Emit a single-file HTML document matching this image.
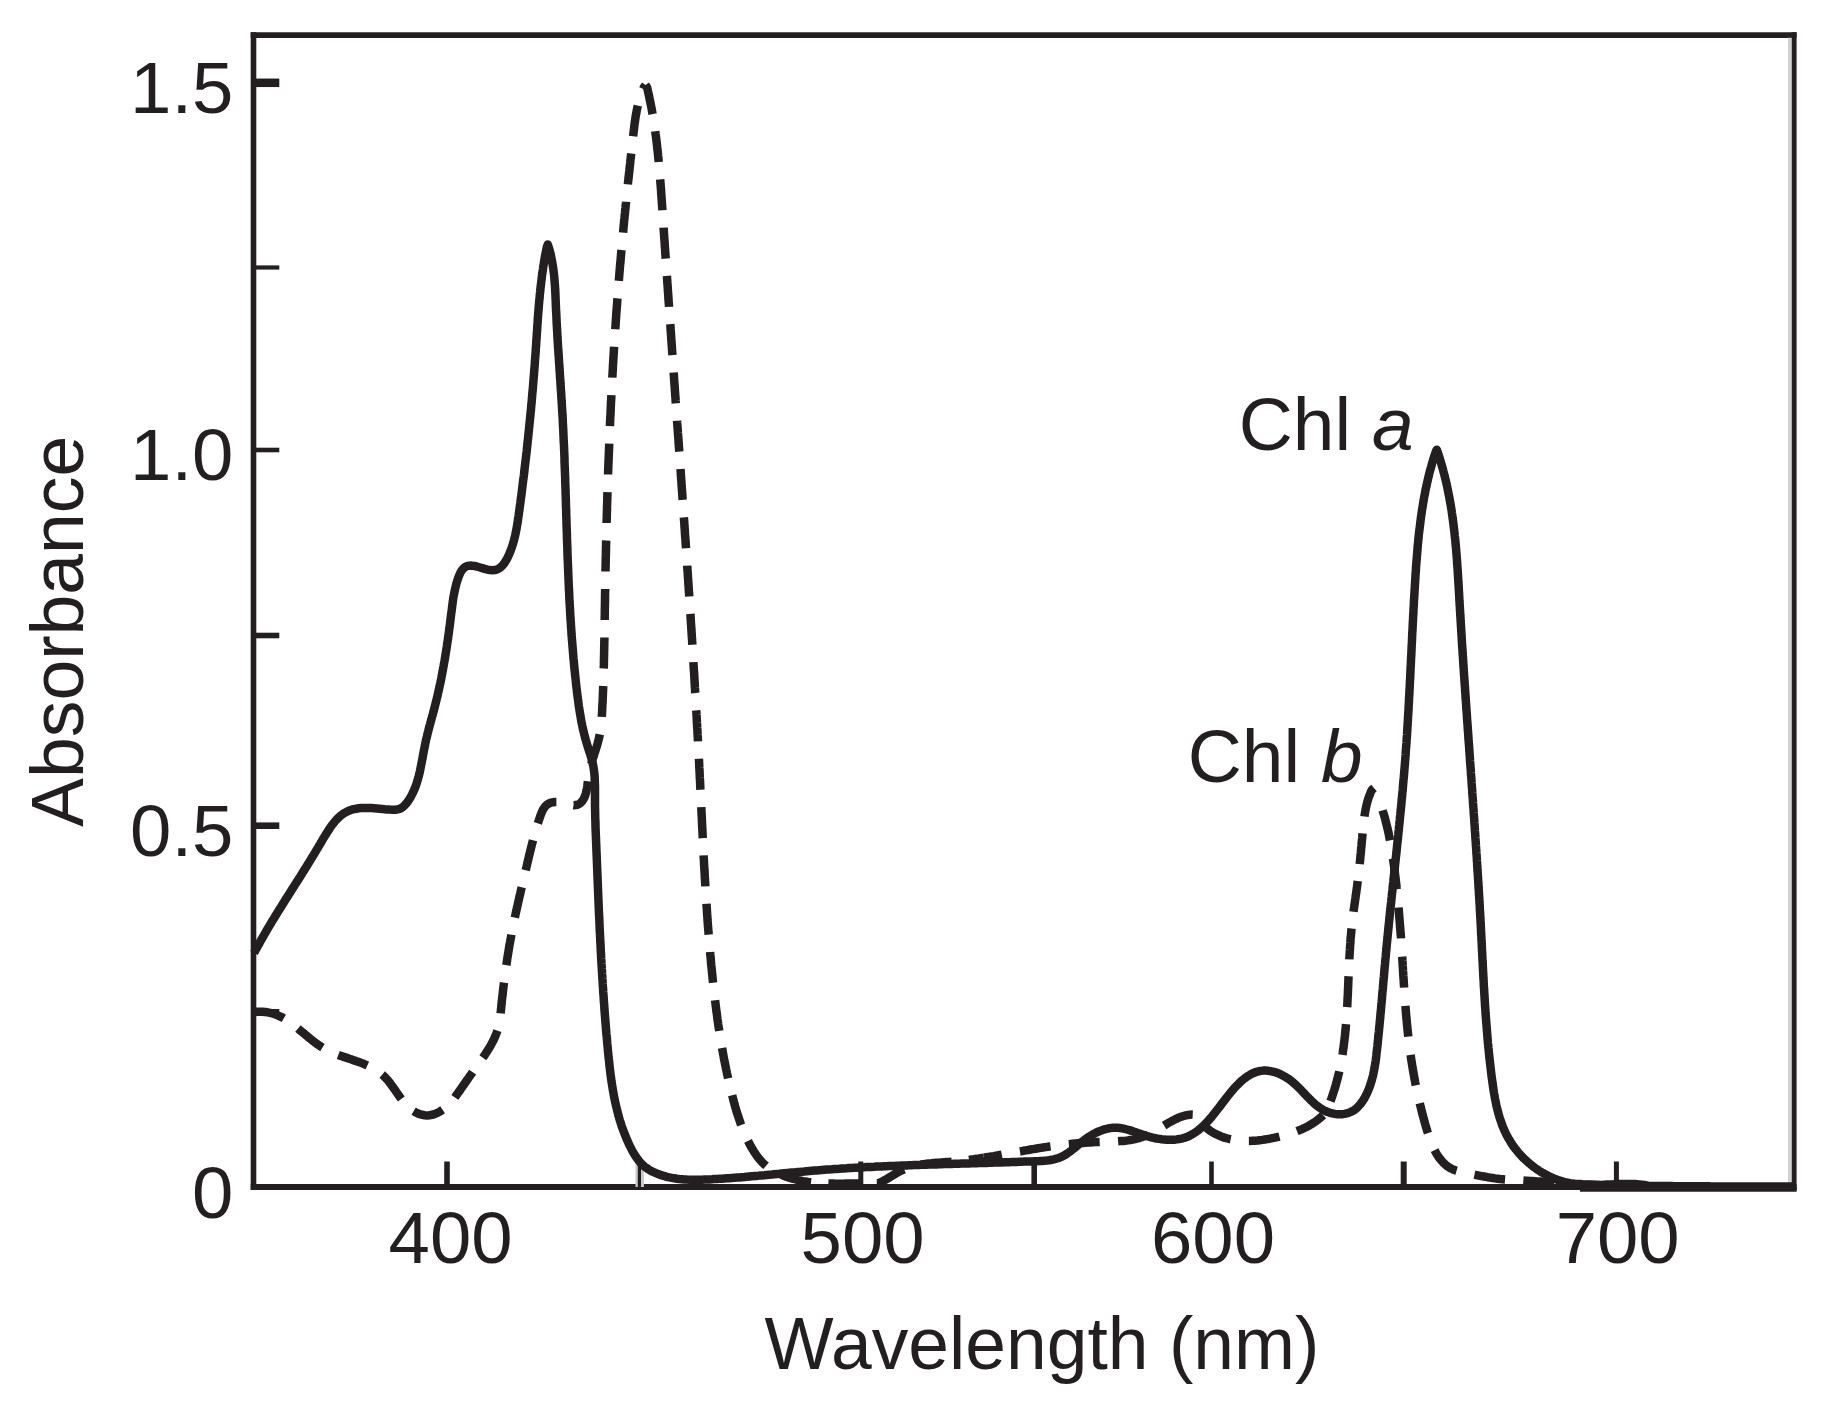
<!DOCTYPE html>
<html lang="en"><head><meta charset="utf-8"><title>Absorbance spectra of Chl a and Chl b</title>
<style>
html,body{margin:0;padding:0;background:#fff;}
body{width:1833px;height:1405px;overflow:hidden;font-family:"Liberation Sans",sans-serif;}
svg{display:block;}
text{font-family:"Liberation Sans",sans-serif;fill:#231f20;}
</style></head><body>
<svg width="1833" height="1405" viewBox="0 0 1833 1405">
<rect width="1833" height="1405" fill="#fff"/>
<g fill="none" stroke="#231f20" stroke-linecap="butt">
<path d="M253.5 32.3 V1189.9" stroke-width="5.6"/>
<path d="M250.7 35.1 H1796.6" stroke-width="5.6"/>
<path d="M1794 32.3 V1190.5" stroke-width="5.2"/>
<path d="M250.7 1186.9 H1796.6" stroke-width="6"/>
<path d="M1789.8 37.8 V1184" stroke-width="3.6" stroke="#d2d1d1"/>
<path d="M1580 1189.6 H1796.6" stroke-width="4.4"/>
<line x1="254" y1="82.8" x2="279.3" y2="82.8" stroke-width="8.5"/>
<line x1="254" y1="267.5" x2="279.3" y2="267.5" stroke-width="4.2"/>
<line x1="254" y1="450" x2="279.3" y2="450" stroke-width="4.6"/>
<line x1="254" y1="635.5" x2="279.3" y2="635.5" stroke-width="5.6"/>
<line x1="254" y1="825.7" x2="279.3" y2="825.7" stroke-width="6.6"/>
<line x1="254" y1="1012" x2="279.3" y2="1012" stroke-width="6"/>
<line x1="447" y1="1161.5" x2="447" y2="1187" stroke-width="5.6"/>
<line x1="639.7" y1="1163" x2="639.7" y2="1187" stroke-width="8.4" stroke="#c9c7c8"/>
<line x1="639.4" y1="1162.7" x2="639.4" y2="1187" stroke-width="3.2"/>
<line x1="860.8" y1="1161.5" x2="860.8" y2="1187" stroke-width="5"/>
<line x1="1034.2" y1="1164" x2="1034.2" y2="1187" stroke-width="5.6"/>
<line x1="1211.5" y1="1161.5" x2="1211.5" y2="1187" stroke-width="4.6"/>
<line x1="1403.7" y1="1161.5" x2="1403.7" y2="1187" stroke-width="6"/>
<line x1="1616.4" y1="1161.5" x2="1616.4" y2="1187" stroke-width="5"/>
</g>
<g fill="none" stroke="#231f20" stroke-linejoin="round">
<path d="M254.0 953.0 L255.2 950.8 L256.5 948.5 L257.7 946.2 L259.0 944.0 L260.2 941.7 L261.5 939.5 L262.7 937.3 L264.0 935.1 L265.3 932.9 L266.5 930.7 L267.8 928.6 L269.1 926.4 L270.4 924.3 L271.6 922.1 L272.9 920.0 L274.2 917.9 L275.5 915.8 L276.8 913.7 L278.1 911.6 L279.4 909.5 L280.7 907.4 L282.0 905.4 L283.3 903.3 L284.6 901.2 L285.9 899.1 L287.2 897.1 L288.5 895.0 L289.8 892.9 L291.1 890.9 L292.4 888.8 L293.8 886.7 L295.1 884.6 L296.4 882.6 L297.7 880.5 L299.0 878.4 L300.4 876.3 L301.7 874.2 L303.0 872.1 L304.4 869.9 L305.7 867.8 L307.0 865.7 L308.3 863.5 L309.7 861.4 L311.0 859.2 L312.3 857.0 L313.7 854.8 L315.0 852.6 L316.3 850.4 L317.7 848.1 L319.0 845.9 L320.4 843.6 L321.7 841.3 L323.0 839.0 L324.4 836.8 L325.8 834.5 L327.2 832.3 L328.6 830.1 L330.0 827.9 L331.5 825.8 L333.0 823.8 L334.6 821.8 L336.2 820.0 L337.9 818.2 L339.7 816.6 L341.5 815.1 L343.4 813.7 L345.3 812.5 L347.4 811.4 L349.5 810.5 L351.7 809.7 L354.0 809.1 L356.3 808.7 L358.8 808.3 L361.2 808.1 L363.8 808.0 L366.3 808.0 L368.9 808.0 L371.5 808.1 L374.2 808.3 L376.8 808.5 L379.5 808.7 L382.1 808.9 L384.7 809.2 L387.3 809.4 L389.9 809.6 L392.4 809.7 L394.9 809.7 L397.2 809.5 L399.5 808.9 L401.5 808.0 L403.3 806.6 L405.0 804.9 L406.6 803.1 L408.1 801.1 L409.4 799.1 L410.7 797.0 L411.8 794.9 L412.9 792.7 L413.9 790.5 L414.9 788.2 L415.8 785.9 L416.6 783.6 L417.3 781.2 L418.0 778.8 L418.7 776.3 L419.3 773.9 L419.9 771.4 L420.4 768.9 L420.9 766.3 L421.4 763.8 L421.9 761.3 L422.4 758.7 L422.9 756.2 L423.3 753.7 L423.8 751.1 L424.3 748.6 L424.8 746.1 L425.3 743.6 L425.8 741.1 L426.4 738.6 L427.0 736.2 L427.5 733.8 L428.2 731.3 L428.8 728.9 L429.4 726.5 L430.1 724.1 L430.7 721.7 L431.4 719.3 L432.0 717.0 L432.7 714.6 L433.3 712.2 L434.0 709.8 L434.6 707.4 L435.2 705.0 L435.8 702.6 L436.4 700.2 L437.0 697.8 L437.6 695.4 L438.1 693.0 L438.7 690.5 L439.2 688.1 L439.7 685.7 L440.3 683.2 L440.8 680.8 L441.3 678.3 L441.7 675.9 L442.2 673.4 L442.7 670.9 L443.1 668.5 L443.6 666.0 L444.0 663.5 L444.5 661.0 L444.9 658.6 L445.3 656.1 L445.7 653.6 L446.1 651.1 L446.5 648.6 L446.9 646.1 L447.2 643.6 L447.6 641.1 L448.0 638.7 L448.3 636.2 L448.7 633.7 L449.0 631.2 L449.3 628.7 L449.7 626.2 L450.0 623.7 L450.3 621.2 L450.6 618.7 L450.9 616.2 L451.2 613.7 L451.6 611.2 L451.9 608.7 L452.2 606.2 L452.5 603.7 L452.9 601.2 L453.2 598.7 L453.6 596.2 L454.1 593.8 L454.6 591.3 L455.1 588.9 L455.7 586.4 L456.3 584.0 L457.0 581.6 L457.8 579.2 L458.6 576.8 L459.6 574.4 L460.6 572.2 L461.9 570.2 L463.3 568.5 L465.0 567.1 L466.9 566.2 L469.2 565.7 L471.5 565.6 L474.1 565.9 L476.7 566.5 L479.4 567.3 L482.1 568.1 L484.8 568.9 L487.5 569.6 L490.1 570.1 L492.5 570.3 L494.8 570.1 L496.9 569.5 L498.9 568.5 L500.7 567.2 L502.4 565.6 L503.9 563.8 L505.3 561.7 L506.6 559.5 L507.8 557.2 L508.9 554.8 L509.9 552.4 L510.9 549.9 L511.8 547.5 L512.6 545.0 L513.3 542.6 L514.0 540.1 L514.6 537.7 L515.2 535.2 L515.7 532.8 L516.2 530.3 L516.7 527.9 L517.1 525.4 L517.5 523.0 L517.9 520.5 L518.2 518.1 L518.6 515.6 L518.9 513.2 L519.3 510.7 L519.6 508.2 L519.9 505.8 L520.3 503.3 L520.6 500.8 L520.9 498.4 L521.3 495.9 L521.6 493.4 L521.9 490.9 L522.2 488.5 L522.5 486.0 L522.8 483.5 L523.1 481.0 L523.4 478.6 L523.8 476.1 L524.1 473.6 L524.4 471.1 L524.6 468.6 L524.9 466.2 L525.2 463.7 L525.5 461.2 L525.8 458.7 L526.1 456.2 L526.4 453.7 L526.7 451.2 L526.9 448.7 L527.2 446.3 L527.5 443.8 L527.7 441.3 L528.0 438.8 L528.3 436.3 L528.5 433.8 L528.8 431.3 L529.0 428.8 L529.3 426.3 L529.5 423.8 L529.8 421.3 L530.0 418.8 L530.3 416.3 L530.5 413.8 L530.8 411.3 L531.0 408.8 L531.2 406.3 L531.5 403.8 L531.7 401.3 L531.9 398.8 L532.1 396.3 L532.3 393.8 L532.6 391.3 L532.8 388.8 L533.0 386.3 L533.2 383.8 L533.4 381.3 L533.6 378.8 L533.8 376.3 L534.0 373.8 L534.2 371.3 L534.4 368.8 L534.6 366.3 L534.8 363.8 L534.9 361.3 L535.1 358.8 L535.3 356.3 L535.5 353.8 L535.7 351.3 L535.8 348.8 L536.0 346.3 L536.2 343.8 L536.3 341.3 L536.5 338.8 L536.7 336.3 L536.8 333.8 L537.0 331.3 L537.2 328.8 L537.3 326.3 L537.5 323.8 L537.7 321.3 L537.8 318.8 L538.0 316.3 L538.2 313.8 L538.4 311.3 L538.6 308.8 L538.8 306.3 L539.0 303.8 L539.2 301.3 L539.5 298.9 L539.7 296.4 L539.9 293.9 L540.2 291.4 L540.4 288.9 L540.7 286.4 L541.0 283.9 L541.3 281.5 L541.6 279.0 L541.9 276.5 L542.2 274.0 L542.6 271.5 L543.0 269.1 L543.3 266.6 L543.7 264.1 L544.1 261.6 L544.5 259.2 L545.0 256.7 L545.4 254.2 L545.9 251.8 L546.4 249.3 L546.9 246.8 L547.8 244.5 L548.6 246.9 L549.3 249.3 L550.0 251.7 L550.6 254.1 L551.1 256.6 L551.6 259.0 L552.1 261.5 L552.5 263.9 L552.9 266.4 L553.3 268.9 L553.6 271.3 L553.9 273.8 L554.2 276.3 L554.4 278.8 L554.6 281.3 L554.8 283.8 L555.0 286.3 L555.1 288.8 L555.3 291.3 L555.4 293.8 L555.5 296.3 L555.6 298.8 L555.7 301.3 L555.8 303.8 L555.9 306.3 L556.0 308.8 L556.1 311.3 L556.3 313.8 L556.4 316.3 L556.5 318.8 L556.6 321.3 L556.7 323.8 L556.9 326.3 L557.0 328.8 L557.2 331.3 L557.3 333.8 L557.4 336.3 L557.6 338.8 L557.7 341.3 L557.9 343.8 L558.0 346.3 L558.2 348.8 L558.4 351.3 L558.5 353.8 L558.7 356.3 L558.9 358.8 L559.0 361.3 L559.2 363.8 L559.4 366.3 L559.5 368.8 L559.7 371.3 L559.9 373.8 L560.0 376.3 L560.2 378.8 L560.4 381.3 L560.5 383.8 L560.7 386.3 L560.8 388.7 L561.0 391.2 L561.2 393.7 L561.3 396.2 L561.5 398.7 L561.6 401.2 L561.8 403.7 L561.9 406.2 L562.1 408.7 L562.2 411.2 L562.4 413.7 L562.5 416.2 L562.7 418.7 L562.8 421.2 L562.9 423.7 L563.0 426.2 L563.2 428.7 L563.3 431.2 L563.4 433.7 L563.5 436.2 L563.6 438.7 L563.7 441.2 L563.9 443.7 L564.0 446.2 L564.1 448.7 L564.2 451.2 L564.3 453.7 L564.4 456.2 L564.5 458.7 L564.5 461.2 L564.6 463.7 L564.7 466.2 L564.8 468.7 L564.9 471.2 L565.0 473.7 L565.1 476.2 L565.2 478.7 L565.2 481.2 L565.3 483.7 L565.4 486.2 L565.5 488.7 L565.6 491.2 L565.6 493.7 L565.7 496.2 L565.8 498.7 L565.9 501.2 L565.9 503.7 L566.0 506.2 L566.1 508.7 L566.2 511.2 L566.2 513.7 L566.3 516.3 L566.4 518.8 L566.5 521.3 L566.5 523.8 L566.6 526.3 L566.7 528.8 L566.8 531.3 L566.9 533.8 L566.9 536.3 L567.0 538.8 L567.1 541.3 L567.2 543.8 L567.3 546.3 L567.4 548.8 L567.4 551.3 L567.5 553.8 L567.6 556.3 L567.7 558.8 L567.8 561.3 L567.9 563.8 L568.0 566.3 L568.1 568.8 L568.2 571.3 L568.3 573.8 L568.4 576.3 L568.5 578.8 L568.6 581.3 L568.7 583.8 L568.8 586.3 L568.9 588.8 L569.1 591.3 L569.2 593.8 L569.3 596.3 L569.4 598.8 L569.5 601.3 L569.7 603.8 L569.8 606.3 L570.0 608.8 L570.1 611.3 L570.2 613.8 L570.4 616.3 L570.5 618.8 L570.7 621.3 L570.9 623.8 L571.0 626.3 L571.2 628.8 L571.4 631.3 L571.5 633.8 L571.7 636.3 L571.9 638.8 L572.1 641.2 L572.3 643.7 L572.5 646.2 L572.7 648.7 L572.9 651.2 L573.1 653.7 L573.3 656.2 L573.5 658.7 L573.8 661.2 L574.0 663.7 L574.2 666.1 L574.5 668.6 L574.7 671.1 L575.0 673.6 L575.2 676.1 L575.5 678.6 L575.8 681.1 L576.0 683.5 L576.3 686.0 L576.6 688.5 L576.9 691.0 L577.2 693.5 L577.5 695.9 L577.8 698.4 L578.2 700.9 L578.5 703.4 L578.8 705.8 L579.2 708.3 L579.6 710.8 L580.0 713.2 L580.4 715.7 L580.8 718.2 L581.2 720.6 L581.7 723.1 L582.2 725.5 L582.7 728.0 L583.3 730.4 L583.9 732.8 L584.5 735.3 L585.1 737.7 L585.8 740.1 L586.5 742.5 L587.2 744.9 L588.0 747.3 L588.7 749.7 L589.5 752.1 L590.3 754.5 L591.0 756.9 L591.7 759.3 L592.3 761.7 L592.9 764.1 L593.4 766.6 L593.8 769.0 L594.1 771.5 L594.4 773.9 L594.6 776.4 L594.7 778.9 L594.8 781.4 L594.9 783.9 L595.0 786.4 L595.0 788.9 L595.0 791.4 L595.0 794.0 L595.0 796.5 L595.0 799.0 L595.0 801.5 L595.0 804.0 L595.0 806.6 L595.1 809.1 L595.1 811.6 L595.2 814.1 L595.2 816.6 L595.3 819.1 L595.4 821.6 L595.5 824.2 L595.5 826.7 L595.6 829.2 L595.7 831.7 L595.8 834.2 L595.9 836.7 L596.0 839.2 L596.1 841.7 L596.2 844.2 L596.3 846.7 L596.4 849.2 L596.5 851.7 L596.6 854.2 L596.7 856.7 L596.8 859.2 L596.9 861.7 L597.0 864.2 L597.1 866.7 L597.2 869.2 L597.3 871.7 L597.4 874.2 L597.5 876.7 L597.6 879.2 L597.7 881.7 L597.8 884.2 L597.9 886.7 L598.0 889.2 L598.1 891.7 L598.2 894.2 L598.3 896.7 L598.4 899.2 L598.5 901.7 L598.6 904.2 L598.7 906.7 L598.8 909.2 L598.9 911.7 L599.0 914.2 L599.2 916.7 L599.3 919.2 L599.4 921.7 L599.5 924.1 L599.6 926.6 L599.7 929.1 L599.8 931.6 L600.0 934.1 L600.1 936.6 L600.2 939.1 L600.3 941.6 L600.5 944.1 L600.6 946.6 L600.7 949.1 L600.8 951.6 L601.0 954.1 L601.1 956.6 L601.2 959.0 L601.4 961.5 L601.5 964.0 L601.7 966.5 L601.8 969.0 L602.0 971.5 L602.1 974.0 L602.3 976.5 L602.4 979.0 L602.6 981.5 L602.7 984.0 L602.9 986.5 L603.1 989.0 L603.2 991.5 L603.4 994.0 L603.6 996.5 L603.7 998.9 L603.9 1001.4 L604.1 1003.9 L604.3 1006.4 L604.4 1008.9 L604.6 1011.4 L604.8 1013.9 L605.0 1016.4 L605.2 1018.9 L605.4 1021.4 L605.6 1023.9 L605.8 1026.4 L606.0 1028.9 L606.2 1031.4 L606.4 1033.9 L606.7 1036.4 L606.9 1038.9 L607.1 1041.4 L607.3 1043.9 L607.6 1046.4 L607.8 1049.0 L608.0 1051.5 L608.3 1054.0 L608.5 1056.5 L608.8 1059.0 L609.1 1061.5 L609.3 1064.0 L609.6 1066.5 L609.9 1069.0 L610.2 1071.5 L610.5 1074.0 L610.8 1076.5 L611.2 1079.0 L611.5 1081.5 L611.9 1083.9 L612.3 1086.4 L612.7 1088.9 L613.1 1091.4 L613.6 1093.8 L614.0 1096.3 L614.5 1098.7 L615.0 1101.2 L615.5 1103.6 L616.1 1106.1 L616.7 1108.5 L617.3 1110.9 L617.9 1113.3 L618.5 1115.7 L619.2 1118.1 L619.9 1120.5 L620.7 1122.9 L621.4 1125.3 L622.2 1127.6 L623.1 1130.0 L624.0 1132.3 L624.9 1134.6 L625.8 1136.9 L626.8 1139.3 L627.8 1141.5 L628.8 1143.8 L629.9 1146.1 L631.1 1148.4 L632.2 1150.6 L633.5 1152.8 L634.8 1154.9 L636.1 1157.0 L637.6 1159.1 L639.1 1161.0 L640.7 1162.9 L642.4 1164.6 L644.2 1166.3 L646.2 1167.8 L648.2 1169.2 L650.3 1170.5 L652.5 1171.7 L654.8 1172.7 L657.2 1173.7 L659.6 1174.6 L662.0 1175.4 L664.5 1176.1 L666.9 1176.8 L669.4 1177.4 L671.9 1177.9 L674.4 1178.3 L676.9 1178.7 L679.4 1179.0 L681.9 1179.2 L684.4 1179.4 L686.9 1179.6 L689.4 1179.7 L691.9 1179.8 L694.4 1179.8 L696.9 1179.8 L699.4 1179.8 L701.9 1179.7 L704.4 1179.6 L707.0 1179.5 L709.5 1179.4 L712.0 1179.3 L714.5 1179.1 L717.0 1179.0 L719.5 1178.8 L722.0 1178.7 L724.5 1178.5 L727.0 1178.3 L729.5 1178.2 L732.0 1178.0 L734.5 1177.8 L737.0 1177.6 L739.5 1177.4 L742.0 1177.2 L744.5 1177.0 L747.0 1176.7 L749.5 1176.5 L752.0 1176.3 L754.5 1176.1 L756.9 1175.9 L759.4 1175.6 L761.9 1175.4 L764.4 1175.2 L766.9 1174.9 L769.4 1174.7 L771.9 1174.5 L774.4 1174.2 L776.9 1174.0 L779.4 1173.8 L781.9 1173.5 L784.3 1173.3 L786.8 1173.1 L789.3 1172.8 L791.8 1172.6 L794.3 1172.4 L796.8 1172.1 L799.3 1171.9 L801.8 1171.7 L804.3 1171.5 L806.8 1171.2 L809.2 1171.0 L811.7 1170.8 L814.2 1170.6 L816.7 1170.4 L819.2 1170.2 L821.7 1170.0 L824.2 1169.8 L826.7 1169.6 L829.2 1169.4 L831.7 1169.3 L834.2 1169.1 L836.7 1168.9 L839.2 1168.8 L841.6 1168.6 L844.1 1168.4 L846.6 1168.3 L849.1 1168.1 L851.6 1168.0 L854.1 1167.8 L856.6 1167.7 L859.1 1167.5 L861.6 1167.4 L864.1 1167.3 L866.6 1167.1 L869.1 1167.0 L871.6 1166.9 L874.1 1166.8 L876.6 1166.6 L879.1 1166.5 L881.6 1166.4 L884.1 1166.3 L886.6 1166.2 L889.1 1166.1 L891.6 1166.0 L894.1 1165.9 L896.6 1165.8 L899.1 1165.7 L901.6 1165.6 L904.1 1165.5 L906.6 1165.4 L909.1 1165.3 L911.6 1165.2 L914.1 1165.1 L916.6 1165.0 L919.1 1164.9 L921.6 1164.8 L924.1 1164.8 L926.6 1164.7 L929.1 1164.6 L931.6 1164.5 L934.1 1164.4 L936.6 1164.4 L939.1 1164.3 L941.6 1164.2 L944.1 1164.1 L946.6 1164.0 L949.1 1164.0 L951.6 1163.9 L954.1 1163.8 L956.6 1163.7 L959.1 1163.7 L961.6 1163.6 L964.1 1163.5 L966.6 1163.5 L969.1 1163.4 L971.6 1163.3 L974.1 1163.2 L976.7 1163.2 L979.2 1163.1 L981.7 1163.0 L984.2 1162.9 L986.7 1162.9 L989.2 1162.8 L991.7 1162.7 L994.2 1162.6 L996.7 1162.6 L999.2 1162.5 L1001.7 1162.4 L1004.2 1162.3 L1006.7 1162.2 L1009.2 1162.2 L1011.7 1162.1 L1014.2 1162.0 L1016.7 1161.9 L1019.2 1161.8 L1021.7 1161.7 L1024.3 1161.6 L1026.8 1161.6 L1029.3 1161.5 L1031.8 1161.4 L1034.3 1161.3 L1036.8 1161.2 L1039.3 1161.1 L1041.8 1160.9 L1044.3 1160.7 L1046.7 1160.5 L1049.2 1160.2 L1051.6 1159.8 L1053.9 1159.3 L1056.3 1158.7 L1058.5 1158.0 L1060.8 1157.1 L1062.9 1156.1 L1065.1 1154.9 L1067.1 1153.6 L1069.2 1152.1 L1071.2 1150.6 L1073.2 1149.0 L1075.2 1147.4 L1077.2 1145.7 L1079.2 1144.0 L1081.2 1142.4 L1083.3 1140.8 L1085.4 1139.2 L1087.5 1137.7 L1089.7 1136.3 L1091.9 1135.0 L1094.1 1133.7 L1096.4 1132.5 L1098.7 1131.5 L1101.0 1130.6 L1103.3 1129.7 L1105.6 1129.1 L1108.0 1128.5 L1110.3 1128.1 L1112.7 1127.8 L1115.0 1127.7 L1117.4 1127.8 L1119.8 1128.0 L1122.2 1128.4 L1124.5 1128.9 L1126.9 1129.5 L1129.3 1130.1 L1131.7 1130.9 L1134.1 1131.7 L1136.5 1132.5 L1139.0 1133.4 L1141.4 1134.2 L1143.9 1135.1 L1146.4 1135.9 L1148.9 1136.6 L1151.4 1137.3 L1154.0 1138.0 L1156.6 1138.5 L1159.1 1138.9 L1161.7 1139.3 L1164.2 1139.6 L1166.8 1139.8 L1169.3 1139.8 L1171.8 1139.8 L1174.3 1139.7 L1176.7 1139.4 L1179.1 1139.0 L1181.5 1138.6 L1183.8 1138.0 L1186.0 1137.2 L1188.2 1136.4 L1190.3 1135.4 L1192.3 1134.3 L1194.3 1133.0 L1196.3 1131.7 L1198.2 1130.3 L1200.0 1128.8 L1201.9 1127.2 L1203.7 1125.5 L1205.4 1123.8 L1207.1 1122.0 L1208.8 1120.1 L1210.5 1118.2 L1212.2 1116.2 L1213.8 1114.2 L1215.4 1112.1 L1217.0 1110.0 L1218.7 1107.9 L1220.3 1105.8 L1221.9 1103.7 L1223.5 1101.6 L1225.2 1099.4 L1226.8 1097.3 L1228.5 1095.2 L1230.2 1093.1 L1231.9 1091.1 L1233.6 1089.1 L1235.3 1087.1 L1237.1 1085.2 L1238.9 1083.4 L1240.7 1081.7 L1242.6 1080.0 L1244.5 1078.5 L1246.4 1077.1 L1248.3 1075.8 L1250.3 1074.6 L1252.4 1073.5 L1254.4 1072.6 L1256.5 1071.9 L1258.7 1071.3 L1260.9 1070.9 L1263.2 1070.6 L1265.5 1070.6 L1267.8 1070.7 L1270.2 1071.1 L1272.6 1071.6 L1275.1 1072.2 L1277.5 1073.1 L1279.9 1074.0 L1282.2 1075.2 L1284.5 1076.4 L1286.8 1077.8 L1289.0 1079.2 L1291.1 1080.8 L1293.1 1082.5 L1295.1 1084.2 L1297.0 1086.0 L1298.9 1087.8 L1300.7 1089.7 L1302.5 1091.6 L1304.3 1093.5 L1306.1 1095.4 L1307.9 1097.2 L1309.7 1099.1 L1311.5 1100.9 L1313.4 1102.6 L1315.2 1104.3 L1317.2 1105.8 L1319.1 1107.3 L1321.2 1108.7 L1323.3 1109.9 L1325.4 1111.0 L1327.7 1112.0 L1330.0 1112.8 L1332.4 1113.4 L1334.8 1113.9 L1337.2 1114.2 L1339.6 1114.3 L1342.0 1114.2 L1344.4 1113.9 L1346.7 1113.4 L1348.9 1112.7 L1351.0 1111.8 L1353.1 1110.7 L1355.0 1109.4 L1356.8 1107.9 L1358.5 1106.2 L1360.2 1104.4 L1361.7 1102.4 L1363.1 1100.3 L1364.5 1098.1 L1365.7 1095.8 L1366.9 1093.4 L1368.0 1091.0 L1369.0 1088.5 L1370.0 1085.9 L1370.8 1083.4 L1371.6 1080.8 L1372.3 1078.2 L1373.0 1075.7 L1373.5 1073.2 L1374.0 1070.7 L1374.5 1068.2 L1374.9 1065.7 L1375.3 1063.3 L1375.7 1060.8 L1376.0 1058.4 L1376.3 1055.9 L1376.5 1053.5 L1376.8 1051.1 L1377.1 1048.6 L1377.4 1046.2 L1377.6 1043.7 L1377.9 1041.3 L1378.1 1038.8 L1378.4 1036.4 L1378.6 1033.9 L1378.9 1031.4 L1379.1 1029.0 L1379.4 1026.5 L1379.6 1024.0 L1379.8 1021.6 L1380.1 1019.1 L1380.3 1016.6 L1380.5 1014.1 L1380.8 1011.6 L1381.0 1009.2 L1381.2 1006.7 L1381.4 1004.2 L1381.7 1001.7 L1381.9 999.2 L1382.1 996.7 L1382.3 994.2 L1382.5 991.7 L1382.8 989.2 L1383.0 986.7 L1383.2 984.2 L1383.4 981.7 L1383.6 979.2 L1383.9 976.7 L1384.1 974.2 L1384.3 971.7 L1384.5 969.2 L1384.7 966.7 L1385.0 964.2 L1385.2 961.7 L1385.4 959.2 L1385.7 956.7 L1385.9 954.2 L1386.1 951.8 L1386.4 949.3 L1386.6 946.8 L1386.8 944.3 L1387.1 941.8 L1387.3 939.3 L1387.6 936.8 L1387.8 934.3 L1388.1 931.8 L1388.3 929.3 L1388.6 926.8 L1388.8 924.3 L1389.1 921.8 L1389.3 919.3 L1389.6 916.8 L1389.8 914.3 L1390.1 911.8 L1390.4 909.3 L1390.6 906.8 L1390.9 904.4 L1391.2 901.9 L1391.4 899.4 L1391.7 896.9 L1391.9 894.4 L1392.2 891.9 L1392.5 889.4 L1392.7 886.9 L1393.0 884.4 L1393.3 881.9 L1393.5 879.4 L1393.8 877.0 L1394.1 874.5 L1394.3 872.0 L1394.6 869.5 L1394.9 867.0 L1395.1 864.5 L1395.4 862.0 L1395.7 859.5 L1395.9 857.0 L1396.2 854.6 L1396.5 852.1 L1396.7 849.6 L1397.0 847.1 L1397.2 844.6 L1397.5 842.1 L1397.8 839.6 L1398.0 837.1 L1398.3 834.7 L1398.5 832.2 L1398.8 829.7 L1399.0 827.2 L1399.3 824.7 L1399.5 822.2 L1399.8 819.7 L1400.0 817.2 L1400.3 814.7 L1400.5 812.3 L1400.8 809.8 L1401.0 807.3 L1401.3 804.8 L1401.5 802.3 L1401.7 799.8 L1402.0 797.3 L1402.2 794.8 L1402.4 792.4 L1402.7 789.9 L1402.9 787.4 L1403.1 784.9 L1403.3 782.4 L1403.5 779.9 L1403.8 777.4 L1404.0 774.9 L1404.2 772.4 L1404.4 769.9 L1404.6 767.5 L1404.8 765.0 L1405.0 762.5 L1405.2 760.0 L1405.4 757.5 L1405.6 755.0 L1405.7 752.5 L1405.9 750.0 L1406.1 747.5 L1406.3 745.0 L1406.5 742.5 L1406.6 740.0 L1406.8 737.5 L1407.0 735.0 L1407.1 732.6 L1407.3 730.1 L1407.4 727.6 L1407.6 725.1 L1407.7 722.6 L1407.9 720.1 L1408.0 717.6 L1408.2 715.1 L1408.3 712.6 L1408.5 710.1 L1408.6 707.6 L1408.7 705.1 L1408.9 702.6 L1409.0 700.1 L1409.1 697.6 L1409.3 695.1 L1409.4 692.6 L1409.5 690.1 L1409.7 687.6 L1409.8 685.1 L1409.9 682.6 L1410.0 680.1 L1410.2 677.6 L1410.3 675.1 L1410.4 672.6 L1410.5 670.1 L1410.6 667.6 L1410.8 665.1 L1410.9 662.6 L1411.0 660.1 L1411.1 657.6 L1411.3 655.1 L1411.4 652.6 L1411.5 650.1 L1411.6 647.6 L1411.7 645.1 L1411.9 642.6 L1412.0 640.1 L1412.1 637.6 L1412.2 635.1 L1412.3 632.6 L1412.5 630.1 L1412.6 627.6 L1412.7 625.1 L1412.8 622.6 L1413.0 620.1 L1413.1 617.6 L1413.2 615.1 L1413.4 612.6 L1413.5 610.1 L1413.6 607.6 L1413.8 605.1 L1413.9 602.6 L1414.0 600.1 L1414.2 597.6 L1414.3 595.1 L1414.5 592.6 L1414.6 590.1 L1414.8 587.6 L1414.9 585.1 L1415.1 582.6 L1415.2 580.1 L1415.4 577.6 L1415.5 575.1 L1415.7 572.6 L1415.9 570.1 L1416.0 567.6 L1416.2 565.1 L1416.4 562.6 L1416.6 560.1 L1416.8 557.6 L1417.0 555.1 L1417.2 552.6 L1417.4 550.1 L1417.6 547.6 L1417.8 545.1 L1418.1 542.6 L1418.3 540.1 L1418.6 537.6 L1418.8 535.1 L1419.1 532.6 L1419.4 530.1 L1419.7 527.7 L1420.0 525.2 L1420.3 522.7 L1420.6 520.2 L1420.9 517.7 L1421.3 515.3 L1421.6 512.8 L1422.0 510.3 L1422.4 507.9 L1422.8 505.4 L1423.2 502.9 L1423.6 500.5 L1424.0 498.0 L1424.5 495.6 L1425.0 493.1 L1425.4 490.7 L1425.9 488.2 L1426.5 485.8 L1427.0 483.3 L1427.6 480.9 L1428.1 478.5 L1428.7 476.1 L1429.3 473.6 L1429.9 471.2 L1430.6 468.8 L1431.3 466.4 L1431.9 464.0 L1432.6 461.6 L1433.4 459.2 L1434.1 456.8 L1434.9 454.4 L1435.7 452.0 L1436.7 449.7 L1437.6 451.9 L1438.4 454.4 L1439.2 456.8 L1439.9 459.2 L1440.7 461.6 L1441.4 464.1 L1442.1 466.5 L1442.8 468.9 L1443.4 471.3 L1444.1 473.8 L1444.7 476.2 L1445.3 478.7 L1445.9 481.1 L1446.5 483.6 L1447.0 486.0 L1447.5 488.4 L1448.0 490.9 L1448.5 493.4 L1449.0 495.8 L1449.5 498.3 L1449.9 500.7 L1450.3 503.2 L1450.8 505.7 L1451.2 508.1 L1451.6 510.6 L1451.9 513.1 L1452.3 515.5 L1452.6 518.0 L1453.0 520.5 L1453.3 523.0 L1453.6 525.4 L1453.9 527.9 L1454.2 530.4 L1454.5 532.9 L1454.7 535.4 L1455.0 537.9 L1455.3 540.3 L1455.5 542.8 L1455.7 545.3 L1456.0 547.8 L1456.2 550.3 L1456.4 552.8 L1456.6 555.3 L1456.8 557.8 L1457.0 560.3 L1457.1 562.8 L1457.3 565.3 L1457.5 567.8 L1457.7 570.3 L1457.8 572.8 L1458.0 575.3 L1458.1 577.8 L1458.3 580.3 L1458.4 582.8 L1458.6 585.3 L1458.7 587.8 L1458.9 590.3 L1459.0 592.8 L1459.2 595.3 L1459.3 597.8 L1459.4 600.3 L1459.6 602.8 L1459.7 605.3 L1459.9 607.8 L1460.0 610.3 L1460.2 612.8 L1460.3 615.3 L1460.5 617.8 L1460.6 620.3 L1460.8 622.8 L1460.9 625.3 L1461.1 627.8 L1461.2 630.3 L1461.4 632.8 L1461.5 635.3 L1461.7 637.8 L1461.8 640.3 L1462.0 642.8 L1462.1 645.3 L1462.3 647.8 L1462.5 650.3 L1462.6 652.8 L1462.8 655.3 L1463.0 657.8 L1463.1 660.4 L1463.3 662.9 L1463.4 665.4 L1463.6 667.9 L1463.8 670.4 L1463.9 672.9 L1464.1 675.4 L1464.3 677.9 L1464.4 680.4 L1464.6 682.9 L1464.8 685.4 L1465.0 687.9 L1465.1 690.4 L1465.3 692.9 L1465.5 695.4 L1465.6 697.9 L1465.8 700.4 L1466.0 702.9 L1466.2 705.4 L1466.3 707.9 L1466.5 710.4 L1466.7 712.9 L1466.9 715.4 L1467.0 717.9 L1467.2 720.4 L1467.4 722.9 L1467.6 725.4 L1467.7 727.9 L1467.9 730.4 L1468.1 732.9 L1468.3 735.4 L1468.4 737.9 L1468.6 740.4 L1468.8 742.9 L1469.0 745.4 L1469.2 747.9 L1469.3 750.4 L1469.5 752.9 L1469.7 755.5 L1469.9 758.0 L1470.0 760.5 L1470.2 763.0 L1470.4 765.5 L1470.6 768.0 L1470.8 770.5 L1470.9 773.0 L1471.1 775.5 L1471.3 778.0 L1471.5 780.5 L1471.6 783.0 L1471.8 785.5 L1472.0 788.0 L1472.2 790.5 L1472.3 793.0 L1472.5 795.5 L1472.7 798.0 L1472.9 800.5 L1473.0 803.0 L1473.2 805.5 L1473.4 808.0 L1473.6 810.5 L1473.7 813.0 L1473.9 815.5 L1474.1 818.0 L1474.3 820.5 L1474.4 823.0 L1474.6 825.5 L1474.8 828.0 L1474.9 830.5 L1475.1 833.0 L1475.3 835.5 L1475.4 838.0 L1475.6 840.5 L1475.8 843.0 L1475.9 845.5 L1476.1 848.0 L1476.3 850.5 L1476.4 853.0 L1476.6 855.5 L1476.8 858.0 L1476.9 860.5 L1477.1 862.9 L1477.2 865.4 L1477.4 867.9 L1477.5 870.4 L1477.7 872.9 L1477.9 875.4 L1478.0 877.9 L1478.2 880.4 L1478.3 882.9 L1478.5 885.4 L1478.6 887.9 L1478.8 890.4 L1478.9 892.9 L1479.1 895.4 L1479.2 897.9 L1479.4 900.4 L1479.5 902.9 L1479.7 905.4 L1479.8 907.9 L1479.9 910.4 L1480.1 912.9 L1480.2 915.4 L1480.4 917.9 L1480.5 920.4 L1480.6 922.9 L1480.8 925.3 L1480.9 927.8 L1481.0 930.3 L1481.1 932.8 L1481.3 935.3 L1481.4 937.8 L1481.5 940.3 L1481.7 942.8 L1481.8 945.3 L1481.9 947.8 L1482.0 950.3 L1482.2 952.8 L1482.3 955.3 L1482.4 957.8 L1482.5 960.3 L1482.7 962.8 L1482.8 965.2 L1482.9 967.7 L1483.0 970.2 L1483.2 972.7 L1483.3 975.2 L1483.4 977.7 L1483.6 980.2 L1483.7 982.7 L1483.8 985.2 L1484.0 987.7 L1484.1 990.2 L1484.3 992.7 L1484.4 995.2 L1484.6 997.7 L1484.7 1000.2 L1484.9 1002.7 L1485.0 1005.2 L1485.2 1007.7 L1485.4 1010.2 L1485.5 1012.7 L1485.7 1015.2 L1485.9 1017.7 L1486.1 1020.2 L1486.3 1022.7 L1486.5 1025.2 L1486.7 1027.7 L1486.9 1030.2 L1487.1 1032.7 L1487.3 1035.2 L1487.5 1037.7 L1487.7 1040.2 L1487.9 1042.7 L1488.2 1045.2 L1488.4 1047.7 L1488.7 1050.2 L1488.9 1052.8 L1489.2 1055.3 L1489.4 1057.8 L1489.7 1060.3 L1490.0 1062.8 L1490.3 1065.3 L1490.6 1067.8 L1490.9 1070.4 L1491.2 1072.9 L1491.5 1075.4 L1491.8 1077.9 L1492.2 1080.4 L1492.5 1083.0 L1492.9 1085.5 L1493.2 1088.0 L1493.6 1090.5 L1494.0 1093.0 L1494.5 1095.5 L1494.9 1098.0 L1495.4 1100.5 L1495.9 1103.0 L1496.4 1105.4 L1497.0 1107.9 L1497.6 1110.3 L1498.2 1112.7 L1498.9 1115.1 L1499.6 1117.5 L1500.4 1119.9 L1501.2 1122.2 L1502.0 1124.6 L1502.9 1126.9 L1503.9 1129.2 L1504.9 1131.4 L1505.9 1133.6 L1507.0 1135.8 L1508.2 1138.0 L1509.5 1140.1 L1510.8 1142.2 L1512.1 1144.3 L1513.5 1146.4 L1515.0 1148.4 L1516.6 1150.3 L1518.1 1152.3 L1519.8 1154.1 L1521.5 1156.0 L1523.2 1157.8 L1525.0 1159.5 L1526.8 1161.2 L1528.7 1162.9 L1530.7 1164.5 L1532.6 1166.1 L1534.6 1167.6 L1536.7 1169.1 L1538.8 1170.5 L1540.9 1171.8 L1543.0 1173.1 L1545.2 1174.3 L1547.5 1175.5 L1549.7 1176.6 L1552.0 1177.6 L1554.3 1178.6 L1556.6 1179.5 L1559.0 1180.4 L1561.4 1181.1 L1563.8 1181.8 L1566.2 1182.5 L1568.7 1183.0 L1571.1 1183.5 L1573.6 1183.9 L1576.1 1184.3 L1578.6 1184.5 L1581.1 1184.7 L1583.7 1184.9 L1586.2 1185.0 L1588.8 1185.1 L1591.3 1185.1 L1593.9 1185.1 L1596.4 1185.0 L1599.0 1184.9 L1601.6 1184.9 L1604.2 1184.7 L1606.7 1184.6 L1609.3 1184.5 L1611.9 1184.4 L1614.4 1184.3 L1617.0 1184.2 L1619.5 1184.1 L1622.1 1184.0 L1624.6 1183.9 L1627.1 1183.9 L1629.6 1183.9 L1632.1 1184.0 L1634.6 1184.1 L1637.0 1184.2 L1639.4 1184.4 L1641.9 1184.7 L1644.3 1185.0 L1646.6 1185.4 L1649.0 1186.0 L1651.5 1186.0 L1654.0 1186.0 L1656.5 1186.0 L1659.0 1186.1 L1661.5 1186.1 L1664.0 1186.1 L1666.5 1186.1 L1669.0 1186.1 L1671.5 1186.1 L1674.0 1186.2 L1676.5 1186.2 L1679.0 1186.2 L1681.5 1186.2 L1684.0 1186.2 L1686.5 1186.2 L1689.0 1186.2 L1691.5 1186.3 L1694.0 1186.3 L1696.5 1186.3 L1699.0 1186.3 L1701.5 1186.3 L1704.0 1186.3 L1706.5 1186.3 L1709.0 1186.3 L1711.5 1186.4 L1714.0 1186.4 L1716.5 1186.4 L1719.0 1186.4 L1721.5 1186.4 L1724.0 1186.4 L1726.5 1186.4 L1729.0 1186.4 L1731.5 1186.4 L1734.0 1186.5 L1736.5 1186.5 L1739.0 1186.5 L1741.5 1186.5 L1744.0 1186.5 L1746.5 1186.5 L1749.0 1186.5 L1751.5 1186.5 L1754.0 1186.5 L1756.5 1186.5 L1759.0 1186.5 L1761.5 1186.5 L1764.0 1186.5 L1766.5 1186.5 L1769.0 1186.5 L1771.5 1186.5 L1774.0 1186.5 L1776.5 1186.5 L1779.0 1186.5 L1781.5 1186.5 L1784.0 1186.5 L1786.5 1186.5 L1789.0 1186.5 L1791.5 1186.5 L1794.0 1186.5" stroke-width="8.5"/>
<path d="M254.0 1012.0 L256.9 1011.7 L259.7 1011.7 L262.4 1011.7 L265.0 1012.0 L267.6 1012.3 L270.1 1012.8 L272.5 1013.5 L274.8 1014.2 L277.1 1015.1 L279.3 1016.1 L281.5 1017.1 L283.7 1018.3 L285.8 1019.5 L287.8 1020.8 L289.8 1022.2 L291.8 1023.7 L293.8 1025.2 L295.8 1026.7 L297.7 1028.3 L299.6 1029.9 L301.5 1031.5 L303.5 1033.1 L305.4 1034.7 L307.3 1036.3 L309.2 1037.9 L311.2 1039.5 L313.2 1041.1 L315.2 1042.6 L317.2 1044.1 L319.3 1045.5 L321.4 1046.9 L323.5 1048.2 L325.7 1049.4 L327.9 1050.5 L330.2 1051.6 L332.5 1052.6 L334.9 1053.6 L337.2 1054.5 L339.6 1055.4 L342.0 1056.3 L344.4 1057.1 L346.9 1057.9 L349.3 1058.7 L351.7 1059.5 L354.1 1060.4 L356.5 1061.2 L358.9 1062.0 L361.2 1062.9 L363.6 1063.8 L365.9 1064.8 L368.1 1065.8 L370.4 1066.9 L372.5 1068.0 L374.6 1069.2 L376.7 1070.5 L378.7 1071.8 L380.7 1073.3 L382.5 1074.8 L384.3 1076.5 L386.0 1078.3 L387.7 1080.1 L389.3 1082.1 L390.8 1084.1 L392.3 1086.2 L393.8 1088.3 L395.3 1090.4 L396.7 1092.5 L398.2 1094.7 L399.7 1096.8 L401.2 1098.8 L402.7 1100.8 L404.3 1102.8 L405.9 1104.6 L407.6 1106.4 L409.4 1108.1 L411.3 1109.6 L413.3 1111.0 L415.3 1112.2 L417.5 1113.3 L419.8 1114.2 L422.2 1114.8 L424.6 1115.2 L427.0 1115.4 L429.5 1115.2 L432.0 1114.8 L434.4 1114.1 L436.8 1113.1 L439.2 1112.0 L441.4 1110.6 L443.6 1109.1 L445.6 1107.5 L447.6 1105.8 L449.4 1104.0 L451.1 1102.1 L452.7 1100.1 L454.2 1098.2 L455.7 1096.1 L457.2 1094.1 L458.6 1092.1 L460.1 1090.1 L461.5 1088.0 L462.9 1086.0 L464.3 1084.0 L465.7 1082.0 L467.1 1080.0 L468.6 1077.9 L470.0 1075.9 L471.4 1073.9 L472.8 1071.8 L474.3 1069.8 L475.7 1067.7 L477.2 1065.7 L478.7 1063.6 L480.2 1061.6 L481.6 1059.5 L483.1 1057.4 L484.5 1055.3 L486.0 1053.1 L487.3 1051.0 L488.7 1048.8 L490.0 1046.7 L491.2 1044.5 L492.4 1042.3 L493.6 1040.0 L494.6 1037.8 L495.6 1035.5 L496.5 1033.2 L497.3 1030.8 L498.1 1028.5 L498.7 1026.1 L499.2 1023.7 L499.6 1021.2 L500.0 1018.8 L500.3 1016.3 L500.6 1013.8 L500.8 1011.3 L501.1 1008.8 L501.3 1006.3 L501.6 1003.8 L501.8 1001.3 L502.1 998.8 L502.4 996.3 L502.7 993.9 L502.9 991.4 L503.2 988.9 L503.5 986.4 L503.8 983.9 L504.1 981.5 L504.5 979.0 L504.8 976.5 L505.1 974.0 L505.4 971.6 L505.8 969.1 L506.1 966.6 L506.5 964.1 L506.9 961.7 L507.2 959.2 L507.6 956.7 L508.0 954.3 L508.4 951.8 L508.8 949.4 L509.2 946.9 L509.6 944.4 L510.1 942.0 L510.5 939.5 L511.0 937.1 L511.4 934.6 L511.9 932.1 L512.4 929.7 L512.8 927.2 L513.3 924.8 L513.8 922.3 L514.4 919.9 L514.9 917.4 L515.4 915.0 L515.9 912.5 L516.5 910.1 L517.0 907.6 L517.6 905.2 L518.1 902.7 L518.7 900.3 L519.2 897.8 L519.8 895.4 L520.4 892.9 L520.9 890.5 L521.5 888.1 L522.1 885.6 L522.6 883.2 L523.2 880.8 L523.8 878.3 L524.4 875.9 L524.9 873.5 L525.5 871.0 L526.1 868.6 L526.7 866.2 L527.2 863.8 L527.8 861.4 L528.4 859.0 L528.9 856.5 L529.5 854.1 L530.1 851.7 L530.7 849.3 L531.3 846.9 L531.9 844.5 L532.5 842.1 L533.1 839.7 L533.8 837.2 L534.4 834.8 L535.1 832.4 L535.8 830.0 L536.5 827.5 L537.3 825.1 L538.1 822.7 L538.9 820.2 L539.7 817.8 L540.6 815.3 L541.5 812.9 L542.5 810.6 L543.7 808.4 L545.1 806.5 L546.8 804.9 L548.7 803.7 L550.9 802.7 L553.3 802.2 L555.8 801.9 L558.4 801.9 L561.0 802.2 L563.7 802.8 L566.3 803.5 L568.8 804.2 L571.3 804.8 L573.6 805.2 L575.8 805.1 L577.9 804.6 L579.7 803.6 L581.4 802.1 L582.8 800.3 L584.1 798.1 L585.1 795.8 L585.9 793.3 L586.5 790.8 L587.0 788.2 L587.4 785.6 L587.7 783.0 L588.0 780.4 L588.3 777.8 L588.7 775.2 L589.1 772.7 L589.7 770.2 L590.3 767.7 L590.9 765.3 L591.6 762.8 L592.3 760.4 L593.0 758.1 L593.8 755.7 L594.5 753.3 L595.3 751.0 L596.0 748.6 L596.8 746.3 L597.5 743.9 L598.1 741.6 L598.7 739.2 L599.3 736.8 L599.8 734.4 L600.3 732.0 L600.6 729.6 L600.9 727.1 L601.2 724.7 L601.4 722.2 L601.6 719.7 L601.8 717.2 L601.9 714.7 L602.1 712.2 L602.2 709.7 L602.3 707.2 L602.4 704.7 L602.6 702.2 L602.7 699.7 L602.8 697.2 L602.9 694.7 L603.0 692.2 L603.1 689.7 L603.2 687.2 L603.3 684.7 L603.3 682.2 L603.4 679.7 L603.5 677.2 L603.6 674.7 L603.7 672.2 L603.7 669.7 L603.8 667.2 L603.9 664.7 L603.9 662.2 L604.0 659.7 L604.0 657.2 L604.1 654.7 L604.1 652.2 L604.2 649.7 L604.2 647.2 L604.3 644.7 L604.3 642.2 L604.4 639.7 L604.4 637.2 L604.5 634.7 L604.5 632.2 L604.5 629.7 L604.6 627.2 L604.6 624.7 L604.7 622.2 L604.7 619.7 L604.7 617.2 L604.8 614.7 L604.8 612.2 L604.8 609.7 L604.9 607.2 L604.9 604.7 L605.0 602.2 L605.0 599.7 L605.0 597.2 L605.1 594.7 L605.1 592.2 L605.2 589.7 L605.2 587.2 L605.3 584.7 L605.3 582.2 L605.4 579.7 L605.4 577.2 L605.4 574.7 L605.5 572.2 L605.5 569.7 L605.6 567.2 L605.6 564.7 L605.7 562.2 L605.7 559.7 L605.8 557.2 L605.9 554.7 L605.9 552.2 L606.0 549.7 L606.0 547.2 L606.1 544.7 L606.1 542.2 L606.2 539.7 L606.3 537.2 L606.3 534.7 L606.4 532.2 L606.4 529.7 L606.5 527.2 L606.6 524.7 L606.6 522.2 L606.7 519.7 L606.8 517.2 L606.8 514.7 L606.9 512.2 L607.0 509.7 L607.0 507.2 L607.1 504.7 L607.2 502.2 L607.3 499.7 L607.3 497.2 L607.4 494.7 L607.5 492.2 L607.6 489.7 L607.6 487.2 L607.7 484.7 L607.8 482.2 L607.9 479.7 L608.0 477.2 L608.1 474.7 L608.1 472.2 L608.2 469.7 L608.3 467.2 L608.4 464.7 L608.5 462.2 L608.6 459.7 L608.7 457.2 L608.8 454.7 L608.9 452.2 L609.0 449.7 L609.1 447.2 L609.2 444.7 L609.3 442.2 L609.4 439.7 L609.5 437.2 L609.6 434.7 L609.7 432.2 L609.8 429.7 L609.9 427.2 L610.0 424.7 L610.1 422.2 L610.2 419.7 L610.3 417.2 L610.5 414.7 L610.6 412.2 L610.7 409.7 L610.8 407.2 L610.9 404.7 L611.0 402.2 L611.2 399.7 L611.3 397.2 L611.4 394.7 L611.5 392.2 L611.7 389.7 L611.8 387.2 L611.9 384.7 L612.1 382.2 L612.2 379.7 L612.3 377.2 L612.5 374.7 L612.6 372.2 L612.8 369.7 L612.9 367.2 L613.0 364.7 L613.2 362.2 L613.3 359.7 L613.5 357.2 L613.6 354.7 L613.8 352.2 L613.9 349.7 L614.1 347.2 L614.2 344.7 L614.4 342.2 L614.6 339.7 L614.7 337.3 L614.9 334.8 L615.0 332.3 L615.2 329.8 L615.4 327.3 L615.6 324.8 L615.7 322.3 L615.9 319.8 L616.1 317.3 L616.2 314.8 L616.4 312.3 L616.6 309.8 L616.8 307.3 L617.0 304.8 L617.2 302.3 L617.3 299.8 L617.5 297.4 L617.7 294.9 L617.9 292.4 L618.1 289.9 L618.3 287.4 L618.5 284.9 L618.7 282.4 L618.9 279.9 L619.1 277.4 L619.3 274.9 L619.5 272.4 L619.7 269.9 L619.9 267.5 L620.1 265.0 L620.4 262.5 L620.6 260.0 L620.8 257.5 L621.0 255.0 L621.2 252.5 L621.5 250.0 L621.7 247.5 L621.9 245.1 L622.1 242.6 L622.4 240.1 L622.6 237.6 L622.8 235.1 L623.1 232.6 L623.3 230.1 L623.5 227.6 L623.8 225.1 L624.0 222.7 L624.2 220.2 L624.5 217.7 L624.7 215.2 L625.0 212.7 L625.2 210.2 L625.5 207.7 L625.7 205.2 L626.0 202.7 L626.2 200.3 L626.5 197.8 L626.7 195.3 L627.0 192.8 L627.3 190.3 L627.5 187.8 L627.8 185.3 L628.0 182.8 L628.3 180.3 L628.6 177.8 L628.8 175.4 L629.1 172.9 L629.4 170.4 L629.6 167.9 L629.9 165.4 L630.2 162.9 L630.4 160.4 L630.7 157.9 L631.0 155.4 L631.3 152.9 L631.5 150.4 L631.8 147.9 L632.1 145.4 L632.4 142.9 L632.7 140.5 L632.9 138.0 L633.2 135.5 L633.5 133.0 L633.8 130.5 L634.1 128.0 L634.4 125.5 L634.7 123.0 L635.1 120.5 L635.4 118.1 L635.8 115.6 L636.3 113.1 L636.7 110.7 L637.2 108.3 L637.8 105.8 L638.3 103.4 L639.0 101.0 L639.7 98.7 L640.4 96.3 L641.2 94.0 L642.1 91.6 L643.0 89.3 L644.0 87.0 L645.5 85.0" stroke-width="8.5" stroke-dasharray="31 17.5" stroke-dashoffset="0.0"/>
<path d="M645.5 85.0 L647.0 87.1 L647.6 89.6 L648.1 92.0 L648.7 94.4 L649.2 96.8 L649.7 99.3 L650.2 101.7 L650.7 104.1 L651.2 106.6 L651.7 109.0 L652.1 111.5 L652.5 113.9 L653.0 116.4 L653.4 118.8 L653.8 121.3 L654.1 123.7 L654.5 126.2 L654.9 128.7 L655.2 131.1 L655.5 133.6 L655.9 136.1 L656.2 138.6 L656.5 141.0 L656.8 143.5 L657.1 146.0 L657.3 148.5 L657.6 151.0 L657.9 153.4 L658.1 155.9 L658.4 158.4 L658.6 160.9 L658.8 163.4 L659.1 165.9 L659.3 168.4 L659.5 170.9 L659.7 173.4 L659.9 175.9 L660.1 178.4 L660.3 180.9 L660.5 183.4 L660.7 185.9 L660.9 188.4 L661.1 190.9 L661.2 193.4 L661.4 195.9 L661.6 198.4 L661.8 200.9 L661.9 203.4 L662.1 205.9 L662.3 208.4 L662.4 210.9 L662.6 213.4 L662.8 215.9 L662.9 218.4 L663.1 220.9 L663.3 223.4 L663.5 225.9 L663.6 228.4 L663.8 230.9 L664.0 233.4 L664.1 235.9 L664.3 238.4 L664.5 240.9 L664.7 243.4 L664.8 245.9 L665.0 248.4 L665.2 250.9 L665.3 253.4 L665.5 255.9 L665.7 258.4 L665.9 260.8 L666.0 263.3 L666.2 265.8 L666.4 268.3 L666.5 270.8 L666.7 273.3 L666.9 275.8 L667.1 278.3 L667.2 280.8 L667.4 283.3 L667.6 285.8 L667.8 288.3 L667.9 290.8 L668.1 293.3 L668.3 295.8 L668.4 298.3 L668.6 300.8 L668.8 303.3 L669.0 305.8 L669.1 308.3 L669.3 310.8 L669.5 313.3 L669.7 315.7 L669.8 318.2 L670.0 320.7 L670.2 323.2 L670.4 325.7 L670.5 328.2 L670.7 330.7 L670.9 333.2 L671.1 335.7 L671.2 338.2 L671.4 340.7 L671.6 343.2 L671.8 345.7 L671.9 348.2 L672.1 350.7 L672.3 353.2 L672.5 355.7 L672.6 358.1 L672.8 360.6 L673.0 363.1 L673.2 365.6 L673.3 368.1 L673.5 370.6 L673.7 373.1 L673.9 375.6 L674.0 378.1 L674.2 380.6 L674.4 383.1 L674.6 385.6 L674.8 388.1 L674.9 390.6 L675.1 393.1 L675.3 395.6 L675.5 398.0 L675.6 400.5 L675.8 403.0 L676.0 405.5 L676.2 408.0 L676.3 410.5 L676.5 413.0 L676.7 415.5 L676.9 418.0 L677.1 420.5 L677.2 423.0 L677.4 425.5 L677.6 428.0 L677.8 430.5 L677.9 433.0 L678.1 435.5 L678.3 438.0 L678.5 440.4 L678.6 442.9 L678.8 445.4 L679.0 447.9 L679.2 450.4 L679.4 452.9 L679.5 455.4 L679.7 457.9 L679.9 460.4 L680.1 462.9 L680.2 465.4 L680.4 467.9 L680.6 470.4 L680.8 472.9 L680.9 475.4 L681.1 477.9 L681.3 480.4 L681.5 482.9 L681.6 485.4 L681.8 487.9 L682.0 490.3 L682.2 492.8 L682.3 495.3 L682.5 497.8 L682.7 500.3 L682.9 502.8 L683.0 505.3 L683.2 507.8 L683.4 510.3 L683.6 512.8 L683.7 515.3 L683.9 517.8 L684.1 520.3 L684.3 522.8 L684.4 525.3 L684.6 527.8 L684.8 530.3 L684.9 532.8 L685.1 535.3 L685.3 537.8 L685.5 540.3 L685.6 542.7 L685.8 545.2 L686.0 547.7 L686.1 550.2 L686.3 552.7 L686.5 555.2 L686.7 557.7 L686.8 560.2 L687.0 562.7 L687.2 565.2 L687.3 567.7 L687.5 570.2 L687.7 572.7 L687.8 575.2 L688.0 577.7 L688.2 580.2 L688.3 582.7 L688.5 585.2 L688.7 587.7 L688.8 590.2 L689.0 592.7 L689.2 595.2 L689.3 597.7 L689.5 600.2 L689.6 602.7 L689.8 605.1 L690.0 607.6 L690.1 610.1 L690.3 612.6 L690.5 615.1 L690.6 617.6 L690.8 620.1 L690.9 622.6 L691.1 625.1 L691.3 627.6 L691.4 630.1 L691.6 632.6 L691.7 635.1 L691.9 637.6 L692.1 640.1 L692.2 642.6 L692.4 645.1 L692.5 647.6 L692.7 650.1 L692.8 652.6 L693.0 655.1 L693.1 657.6 L693.3 660.1 L693.4 662.6 L693.6 665.1 L693.7 667.6 L693.9 670.1 L694.1 672.6 L694.2 675.1 L694.4 677.6 L694.5 680.1 L694.6 682.6 L694.8 685.0 L694.9 687.5 L695.1 690.0 L695.2 692.5 L695.4 695.0 L695.5 697.5 L695.7 700.0 L695.8 702.5 L696.0 705.0 L696.1 707.5 L696.2 710.0 L696.4 712.5 L696.5 715.0 L696.7 717.5 L696.8 720.0 L696.9 722.5 L697.1 725.0 L697.2 727.5 L697.4 730.0 L697.5 732.5 L697.6 735.0 L697.8 737.5 L697.9 740.0 L698.0 742.5 L698.2 745.0 L698.3 747.5 L698.4 750.0 L698.6 752.5 L698.7 755.0 L698.8 757.5 L699.0 760.0 L699.1 762.5 L699.2 765.0 L699.3 767.5 L699.5 770.0 L699.6 772.5 L699.7 775.0 L699.8 777.5 L700.0 780.0 L700.1 782.5 L700.2 785.0 L700.3 787.5 L700.4 790.0 L700.6 792.5 L700.7 795.0 L700.8 797.5 L700.9 800.0 L701.0 802.5 L701.2 804.9 L701.3 807.4 L701.4 809.9 L701.5 812.4 L701.6 814.9 L701.8 817.4 L701.9 819.9 L702.0 822.4 L702.1 824.9 L702.2 827.4 L702.4 829.9 L702.5 832.4 L702.6 834.9 L702.7 837.4 L702.9 839.9 L703.0 842.4 L703.1 844.9 L703.2 847.4 L703.4 849.9 L703.5 852.4 L703.6 854.9 L703.7 857.4 L703.9 859.9 L704.0 862.4 L704.1 864.9 L704.3 867.4 L704.4 869.9 L704.6 872.4 L704.7 874.9 L704.8 877.4 L705.0 879.9 L705.1 882.4 L705.3 884.9 L705.4 887.4 L705.6 889.9 L705.7 892.4 L705.9 894.9 L706.0 897.3 L706.2 899.8 L706.4 902.3 L706.5 904.8 L706.7 907.3 L706.9 909.8 L707.0 912.3 L707.2 914.8 L707.4 917.3 L707.5 919.8 L707.7 922.3 L707.9 924.8 L708.1 927.3 L708.3 929.8 L708.5 932.3 L708.7 934.8 L708.9 937.3 L709.1 939.8 L709.3 942.2 L709.5 944.7 L709.7 947.2 L709.9 949.7 L710.1 952.2 L710.3 954.7 L710.6 957.2 L710.8 959.7 L711.0 962.2 L711.2 964.7 L711.5 967.2 L711.7 969.6 L712.0 972.1 L712.2 974.6 L712.5 977.1 L712.7 979.6 L713.0 982.1 L713.3 984.6 L713.5 987.1 L713.8 989.6 L714.1 992.0 L714.4 994.5 L714.7 997.0 L715.0 999.5 L715.3 1002.0 L715.6 1004.5 L715.9 1006.9 L716.2 1009.4 L716.5 1011.9 L716.9 1014.4 L717.2 1016.9 L717.5 1019.3 L717.9 1021.8 L718.2 1024.3 L718.6 1026.8 L719.0 1029.2 L719.4 1031.7 L719.7 1034.2 L720.1 1036.6 L720.5 1039.1 L720.9 1041.6 L721.4 1044.0 L721.8 1046.5 L722.2 1048.9 L722.7 1051.4 L723.1 1053.9 L723.6 1056.3 L724.0 1058.8 L724.5 1061.2 L725.0 1063.7 L725.5 1066.1 L726.0 1068.6 L726.5 1071.0 L727.0 1073.4 L727.6 1075.9 L728.1 1078.3 L728.6 1080.8 L729.2 1083.2 L729.8 1085.6 L730.4 1088.0 L730.9 1090.5 L731.5 1092.9 L732.2 1095.3 L732.8 1097.7 L733.4 1100.2 L734.1 1102.6 L734.7 1105.0 L735.4 1107.4 L736.1 1109.8 L736.8 1112.2 L737.6 1114.5 L738.4 1116.9 L739.2 1119.3 L740.0 1121.7 L740.8 1124.0 L741.7 1126.4 L742.6 1128.7 L743.5 1131.0 L744.5 1133.3 L745.5 1135.7 L746.6 1137.9 L747.7 1140.2 L748.8 1142.5 L750.0 1144.8 L751.2 1147.0 L752.5 1149.2 L753.8 1151.3 L755.2 1153.4 L756.6 1155.5 L758.1 1157.5 L759.7 1159.4 L761.3 1161.3 L763.0 1163.1 L764.8 1164.7 L766.7 1166.3 L768.7 1167.8 L770.7 1169.2 L772.8 1170.5 L775.0 1171.7 L777.2 1172.8 L779.4 1173.9 L781.6 1174.9 L783.9 1175.8 L786.2 1176.7 L788.6 1177.5 L790.9 1178.2 L793.3 1178.9 L795.7 1179.5 L798.1 1180.1 L800.5 1180.6 L803.0 1181.1 L805.5 1181.5 L807.9 1181.9 L810.4 1182.2 L813.0 1182.5 L815.5 1182.7 L818.0 1183.0 L820.5 1183.1 L823.1 1183.3 L825.6 1183.4 L828.2 1183.5 L830.7 1183.6 L833.3 1183.6 L835.8 1183.7 L838.4 1183.7 L841.0 1183.7 L843.5 1183.7 L846.0 1183.6 L848.6 1183.6 L851.1 1183.6 L853.6 1183.5 L856.2 1183.5 L858.7 1183.4 L861.1 1183.4 L863.6 1183.3 L866.1 1183.3 L868.5 1183.3 L870.9 1183.3 L873.4 1183.3 L875.7 1183.3 L878.2 1183.3 L880.5 1182.4 L882.7 1181.3 L884.9 1180.1 L887.0 1178.8 L889.2 1177.5 L891.4 1176.2 L893.6 1174.8 L895.8 1173.5 L898.0 1172.3 L900.2 1171.1 L902.4 1170.0 L904.7 1169.0 L907.0 1168.1 L909.4 1167.3 L911.8 1166.6 L914.1 1166.0 L916.6 1165.4 L919.0 1164.9 L921.4 1164.5 L923.9 1164.1 L926.4 1163.8 L928.9 1163.5 L931.4 1163.3 L933.9 1163.0 L936.4 1162.8 L938.9 1162.7 L941.4 1162.5 L943.9 1162.3 L946.5 1162.1 L949.0 1161.9 L951.5 1161.7 L954.0 1161.5 L956.5 1161.3 L959.0 1161.0 L961.5 1160.8 L964.0 1160.5 L966.5 1160.2 L969.0 1159.9 L971.5 1159.5 L974.0 1159.2 L976.5 1158.8 L978.9 1158.5 L981.4 1158.1 L983.9 1157.7" stroke-width="8.5" stroke-dasharray="31 17.4" stroke-dashoffset="0.9"/>
<path d="M983.9 1157.7 L986.4 1157.3 L988.8 1156.9 L991.3 1156.5 L993.8 1156.1 L996.2 1155.6 L998.7 1155.2 L1001.1 1154.8 L1003.6 1154.3 L1006.1 1153.9 L1008.5 1153.5 L1011.0 1153.0 L1013.4 1152.6 L1015.9 1152.1 L1018.3 1151.7 L1020.8 1151.3 L1023.3 1150.8 L1025.7 1150.4 L1028.2 1150.0 L1030.7 1149.5 L1033.1 1149.1 L1035.6 1148.7 L1038.0 1148.3 L1040.5 1147.9 L1043.0 1147.5 L1045.5 1147.1 L1047.9 1146.8 L1050.4 1146.4 L1052.9 1146.1 L1055.4 1145.7 L1057.9 1145.4 L1060.4 1145.1 L1062.9 1144.8 L1065.3 1144.5 L1067.8 1144.2 L1070.3 1144.0 L1072.8 1143.7 L1075.3 1143.5 L1077.8 1143.3 L1080.4 1143.1 L1082.9 1142.9 L1085.4 1142.7 L1087.9 1142.5 L1090.4 1142.4 L1092.9 1142.3 L1095.4 1142.1 L1097.9 1142.0 L1100.4 1141.9 L1102.9 1141.8 L1105.5 1141.8 L1108.0 1141.7 L1110.5 1141.6 L1113.0 1141.5 L1115.5 1141.4 L1118.0 1141.3 L1120.4 1141.1 L1122.9 1140.9 L1125.4 1140.7 L1127.8 1140.4 L1130.3 1140.0 L1132.7 1139.6 L1135.1 1139.1 L1137.5 1138.5 L1139.9 1137.8 L1142.2 1137.0 L1144.6 1136.2 L1146.9 1135.2 L1149.2 1134.1 L1151.5 1133.0 L1153.8 1131.7 L1156.0 1130.4 L1158.3 1129.1 L1160.5 1127.8 L1162.7 1126.4 L1165.0 1125.0 L1167.2 1123.7 L1169.4 1122.4 L1171.7 1121.1 L1173.9 1120.0 L1176.1 1118.9 L1178.4 1117.8 L1180.7 1116.9 L1182.9 1116.2 L1185.2 1115.5 L1187.5 1115.1 L1189.9 1114.7 L1192.2 1114.6 L1194.6 1114.7 L1196.9 1115.1 L1198.9 1116.0 L1200.6 1117.5 L1201.9 1119.6 L1203.0 1122.1 L1204.2 1124.6" stroke-width="8.5" stroke-dasharray="31 18.4" stroke-dashoffset="12.8"/>
<path d="M1204.2 1124.6 L1205.7 1126.8 L1207.4 1128.6 L1209.4 1130.2 L1211.6 1131.7 L1213.7 1133.0 L1216.0 1134.2 L1218.2 1135.2 L1220.5 1136.2 L1222.8 1137.1 L1225.2 1137.9 L1227.6 1138.5 L1230.0 1139.1 L1232.4 1139.6 L1234.8 1140.0 L1237.3 1140.4 L1239.8 1140.6 L1242.3 1140.8 L1244.8 1140.9 L1247.3 1140.9 L1249.8 1140.9 L1252.3 1140.8 L1254.8 1140.7 L1257.3 1140.5 L1259.8 1140.2 L1262.3 1139.9 L1264.8 1139.5 L1267.3 1139.1 L1269.8 1138.7 L1272.3 1138.2 L1274.8 1137.7 L1277.2 1137.1 L1279.7 1136.5 L1282.1 1135.9 L1284.5 1135.2 L1286.9 1134.5 L1289.3 1133.8 L1291.7 1133.1 L1294.0 1132.3 L1296.3 1131.4 L1298.6 1130.5 L1300.9 1129.6 L1303.1 1128.6 L1305.4 1127.5 L1307.5 1126.4 L1309.7 1125.2 L1311.8 1123.9 L1313.9 1122.6 L1316.0 1121.1 L1318.0 1119.6 L1320.0 1118.0 L1321.9 1116.3 L1323.8 1114.5 L1325.7 1112.8" stroke-width="8.5" stroke-dasharray="31 18.3" stroke-dashoffset="0.0"/>
<path d="M1325.7 1112.8 L1326.7 1110.6 L1327.7 1108.2 L1328.6 1105.8 L1329.6 1103.5 L1330.5 1101.1 L1331.4 1098.7 L1332.2 1096.3 L1333.0 1093.9 L1333.8 1091.5 L1334.6 1089.1 L1335.3 1086.7 L1336.0 1084.3 L1336.6 1081.9 L1337.3 1079.5 L1337.9 1077.1 L1338.5 1074.6 L1339.1 1072.2 L1339.6 1069.8 L1340.1 1067.3 L1340.6 1064.9 L1341.1 1062.4 L1341.5 1060.0 L1342.0 1057.5 L1342.4 1055.1 L1342.8 1052.6 L1343.1 1050.1 L1343.5 1047.7 L1343.8 1045.2 L1344.1 1042.7 L1344.4 1040.2 L1344.7 1037.7 L1345.0 1035.3 L1345.2 1032.8 L1345.5 1030.3 L1345.7 1027.8 L1345.9 1025.3 L1346.1 1022.8 L1346.3 1020.3 L1346.5 1017.8 L1346.7 1015.3 L1346.8 1012.8 L1347.0 1010.3 L1347.1 1007.8 L1347.3 1005.3 L1347.4 1002.8 L1347.5 1000.3 L1347.6 997.8 L1347.8 995.2 L1347.9 992.7 L1348.0 990.2 L1348.1 987.7 L1348.2 985.2 L1348.3 982.7 L1348.4 980.2 L1348.5 977.7 L1348.6 975.1 L1348.7 972.6 L1348.8 970.1 L1348.9 967.6 L1349.1 965.1 L1349.2 962.6 L1349.3 960.1 L1349.4 957.6 L1349.6 955.1 L1349.7 952.6 L1349.9 950.0 L1350.0 947.5 L1350.2 945.0 L1350.4 942.5 L1350.5 940.0 L1350.7 937.5 L1351.0 935.0 L1351.2 932.5 L1351.4 930.1 L1351.7 927.6 L1351.9 925.1 L1352.2 922.6 L1352.5 920.1 L1352.8 917.6 L1353.1 915.1 L1353.4 912.7 L1353.7 910.2 L1354.1 907.7 L1354.4 905.2 L1354.8 902.8 L1355.1 900.3 L1355.5 897.8 L1355.8 895.3 L1356.2 892.9 L1356.5 890.4 L1356.9 887.9 L1357.2 885.4 L1357.5 882.9 L1357.8 880.4 L1358.2 878.0 L1358.5 875.5 L1358.7 873.0 L1359.0 870.5 L1359.3 868.0 L1359.6 865.5 L1359.8 863.0 L1360.1 860.5 L1360.3 858.0 L1360.5 855.4 L1360.8 852.9 L1361.0 850.4 L1361.2 847.9 L1361.5 845.4 L1361.7 842.9 L1361.9 840.4 L1362.2 837.9 L1362.4 835.3 L1362.6 832.8 L1362.9 830.3 L1363.1 827.8 L1363.4 825.3 L1363.7 822.8 L1364.0 820.3 L1364.3 817.8 L1364.6 815.4 L1365.0 812.9 L1365.4 810.4 L1365.9 808.0 L1366.4 805.6 L1367.0 803.3 L1367.6 800.9 L1368.3 798.6 L1369.1 796.3 L1370.0 794.1 L1370.9 791.8 L1372.0 789.7 L1374.0 788.0" stroke-width="8.5" stroke-dasharray="0 12.6 31 16.9 31 16.9 31 16.9 31 16.9 31 16.9 31 16.9 31 16.9 31 16.9 31 16.9" stroke-dashoffset="0.0"/>
<path d="M1374.0 788.0 L1374.9 790.3 L1375.9 792.7 L1376.9 795.0 L1377.9 797.3 L1378.8 799.7 L1379.7 802.0 L1380.6 804.4 L1381.4 806.8 L1382.2 809.1 L1382.9 811.5 L1383.7 813.9 L1384.4 816.3 L1385.1 818.7 L1385.7 821.2 L1386.3 823.6 L1386.9 826.0 L1387.5 828.5 L1388.1 830.9 L1388.6 833.3 L1389.1 835.8 L1389.6 838.3 L1390.1 840.7 L1390.5 843.2 L1391.0 845.7 L1391.4 848.1 L1391.8 850.6 L1392.2 853.1 L1392.6 855.6 L1392.9 858.0 L1393.3 860.5 L1393.6 863.0 L1394.0 865.5 L1394.3 868.0 L1394.6 870.5 L1394.9 873.0 L1395.2 875.5 L1395.5 877.9 L1395.8 880.4 L1396.1 882.9 L1396.4 885.4 L1396.6 887.9 L1396.9 890.4 L1397.2 892.9 L1397.4 895.4 L1397.7 897.9 L1397.9 900.4 L1398.1 902.9 L1398.4 905.4 L1398.6 907.9 L1398.8 910.4 L1399.0 912.9 L1399.2 915.4 L1399.4 917.9 L1399.6 920.4 L1399.8 922.9 L1400.0 925.4 L1400.2 927.9 L1400.4 930.4 L1400.6 932.9 L1400.8 935.4 L1401.0 937.9 L1401.1 940.4 L1401.3 942.9 L1401.5 945.4 L1401.6 947.9 L1401.8 950.4 L1401.9 952.9 L1402.1 955.4 L1402.3 958.0 L1402.4 960.5 L1402.6 963.0 L1402.7 965.5 L1402.9 968.0 L1403.0 970.5 L1403.2 973.0 L1403.3 975.5 L1403.5 978.0 L1403.7 980.5 L1403.8 983.1 L1404.0 985.6 L1404.1 988.1 L1404.3 990.6 L1404.5 993.1 L1404.7 995.6 L1404.8 998.1 L1405.0 1000.6 L1405.2 1003.1 L1405.4 1005.6 L1405.6 1008.1 L1405.8 1010.6 L1406.0 1013.1 L1406.2 1015.6 L1406.4 1018.1 L1406.7 1020.6 L1406.9 1023.1 L1407.1 1025.6 L1407.4 1028.1 L1407.6 1030.6 L1407.9 1033.1 L1408.2 1035.6 L1408.4 1038.1 L1408.7 1040.6 L1409.0 1043.0 L1409.3 1045.5 L1409.7 1048.0 L1410.0 1050.5 L1410.3 1053.0 L1410.7 1055.4 L1411.0 1057.9 L1411.4 1060.4 L1411.8 1062.8 L1412.2 1065.3 L1412.6 1067.8 L1413.0 1070.2 L1413.4 1072.7 L1413.9 1075.2 L1414.3 1077.6 L1414.8 1080.1 L1415.2 1082.5 L1415.7 1085.0 L1416.2 1087.5 L1416.7 1089.9 L1417.3 1092.4 L1417.8 1094.8 L1418.3 1097.3 L1418.9 1099.7 L1419.5 1102.2 L1420.1 1104.6 L1420.7 1107.0 L1421.3 1109.5 L1421.9 1111.9 L1422.5 1114.4 L1423.2 1116.8 L1423.9 1119.3 L1424.5 1121.7 L1425.2 1124.2 L1425.9 1126.6 L1426.7 1129.0 L1427.4 1131.5 L1428.2 1133.9 L1429.0 1136.3 L1429.8 1138.8 L1430.7 1141.2 L1431.6 1143.5 L1432.6 1145.9 L1433.7 1148.2 L1434.8 1150.5 L1436.0 1152.8 L1437.3 1155.0 L1438.7 1157.1 L1440.2 1159.1 L1441.8 1161.0 L1443.4 1162.8 L1445.2 1164.4 L1447.0 1165.9 L1449.0 1167.3 L1451.0 1168.5 L1453.2 1169.5 L1455.4 1170.4 L1457.8 1171.1 L1460.2 1171.7 L1462.6 1172.3 L1465.1 1172.8 L1467.6 1173.3 L1470.1 1173.8 L1472.6 1174.3 L1475.1 1174.8 L1477.6 1175.3 L1480.1 1175.8 L1482.6 1176.3 L1485.1 1176.7 L1487.5 1177.2 L1490.0 1177.6 L1492.5 1178.0 L1495.0 1178.4 L1497.5 1178.7 L1499.9 1179.0 L1502.4 1179.2 L1504.9 1179.4 L1507.4 1179.6 L1509.8 1179.7 L1512.3 1179.9 L1514.8 1180.0 L1517.3 1180.1 L1519.8 1180.3 L1522.2 1180.4 L1524.7 1180.6 L1527.2 1180.7 L1529.7 1180.9 L1532.3 1181.0 L1534.8 1181.2 L1537.3 1181.4 L1539.8 1181.5 L1542.3 1181.7 L1544.8 1181.9 L1547.4 1182.0 L1549.9 1182.2 L1552.4 1182.4 L1554.9 1182.6 L1557.4 1182.7 L1560.0 1182.9 L1562.5 1183.1 L1565.0 1183.2 L1567.5 1183.4 L1570.1 1183.6 L1572.6 1183.7 L1575.1 1183.9 L1577.6 1184.0 L1580.1 1184.1 L1582.6 1184.3 L1585.1 1184.4 L1587.6 1184.5 L1590.1 1184.6 L1592.6 1184.7 L1595.1 1184.8 L1597.5 1184.9 L1600.0 1185.0" stroke-width="8.5" stroke-dasharray="0 24 31 18.3 31 18.3 31 18.3 31 18.3 31 18.3 31 18.3 31 18.3 31 18.3 31 18.3 31 18.3 31 18.3 31 18.3 31 18.3" stroke-dashoffset="0.0"/>

</g>
<text transform="translate(233.4 112.9) scale(1.025 1)" font-size="72.5" text-anchor="end">1.5</text>
<text transform="translate(233.4 480.4) scale(1.025 1)" font-size="72.5" text-anchor="end">1.0</text>
<text transform="translate(233.4 855.6) scale(1.025 1)" font-size="72.5" text-anchor="end">0.5</text>
<text transform="translate(233.4 1217.8) scale(1.025 1)" font-size="72.5" text-anchor="end">0</text>
<text transform="translate(450.6 1262.6) scale(1.025 1)" font-size="72.5" text-anchor="middle">400</text>
<text transform="translate(862.6 1262.6) scale(1.025 1)" font-size="72.5" text-anchor="middle">500</text>
<text transform="translate(1213 1262.6) scale(1.025 1)" font-size="72.5" text-anchor="middle">600</text>
<text transform="translate(1617.7 1262.6) scale(1.025 1)" font-size="72.5" text-anchor="middle">700</text>
<text transform="translate(1042 1369) scale(0.983 1)" font-size="74.5" text-anchor="middle">Wavelength (nm)</text>
<text transform="translate(82.6 631.3) rotate(-90) scale(0.984 1)" font-size="74.5" text-anchor="middle">Absorbance</text>
<text transform="translate(1238.8 450.2) scale(1.005 1)" font-size="74.5" text-anchor="start">Chl <tspan font-style="italic">a</tspan></text>
<text transform="translate(1187.8 781.6) scale(1.005 1)" font-size="74.5" text-anchor="start">Chl <tspan font-style="italic">b</tspan></text>
</svg>
</body></html>
